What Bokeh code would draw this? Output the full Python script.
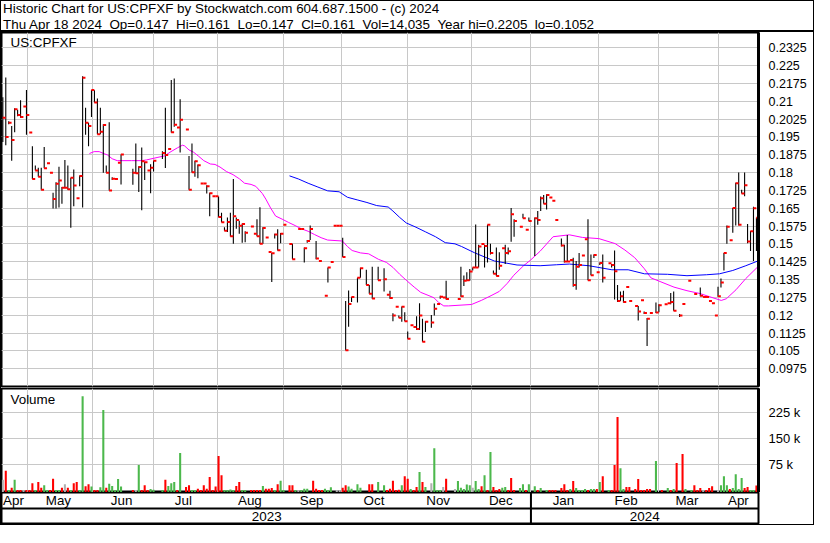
from bokeh.plotting import figure
from bokeh.models import Range1d, FixedTicker, Label, Span, ColumnDataSource, Div
from bokeh.layouts import column
from bokeh.embed import file_html
from bokeh.resources import INLINE
from bokeh.transform import dodge
from bokeh.core.properties import value

FONT = "Liberation Sans"

header_line1 = "Historic Chart for US:CPFXF by Stockwatch.com 604.687.1500 - (c) 2024"
header_line2 = "Thu Apr 18 2024  Op=0.147  Hi=0.161  Lo=0.147  Cl=0.161  Vol=14,035  Year hi=0.2205  lo=0.1052"
symbol = "US:CPFXF"

# ---- daily bars (trading-day index) ----
price_idx = [0,1,2,3,4,5,6,7,8,9,10,11,12,13,14,15,16,17,18,19,20,21,22,23,24,25,26,27,28,29,
             30,31,32,33,34,35,36,37,38,39,40,44,45,46,47,48,49,50,51,54,55,56,57,58,59,60,62,63,64,65,
             66,67,68,69,70,71,72,73,74,75,76,77,78,79,80,81,82,84,85,86,87,88,89,90,91,92,93,94,95,97,
             98,100,101,102,103,104,106,107,109,110,111,112,113,114,115,116,117,118,120,121,123,124,125,127,129,130,131,132,133,134,
             135,136,137,138,139,140,141,142,143,145,146,147,148,149,150,154,155,156,157,158,159,160,161,162,163,164,165,166,167,168,
             169,170,171,172,173,175,176,177,178,180,181,182,183,184,185,186,187,189,190,191,192,193,194,195,196,197,198,199,200,201,
             202,203,205,206,207,208,209,210,211,212,214,215,216,217,218,219,221,222,224,225,226,227,229,230,232,234,236,237,238,239,
             240,241,242,243,244,245,246,247,248,249,250,251,252,253,254,255]
price_hi = [.2117,.2200,.2016,.1996,.2070,.2064,.2104,.2078,.2147,.1968,.1911,.1830,.1820,.1820,.1907,.1839,.1799,.1715,.1759,.1824,
            .1739,.1853,.1830,.1778,.1813,.1692,.1787,.2205,.2073,.2009,.2147,.2146,.2111,.2073,.2003,.1830,.2012,.1780,.1773,.1841,
            .1876,.1816,.1922,.1826,.1905,.1845,.1809,.1835,.1850,.1890,.2073,.1899,.2189,.2195,.1989,.2108,.1981,.1870,.1922,.1850,
            .1834,.1754,.1754,.1746,.1715,.1700,.1700,.1699,.1631,.1570,.1611,.1631,.1773,.1611,.1597,.1586,.1553,.1573,.1543,.1604,
            .1654,.1570,.1527,.1466,.1462,.1543,.1561,.1546,.1580,.1499,.1500,.1563,.1563,.1485,.1516,.1577,.1512,.1428,.1282,.1401,
            .1424,.1576,.1576,.1576,.1526,.1260,.1304,.1276,.1357,.1399,.1391,.1327,.1404,.1404,.1397,.1286,.1303,.1208,.1235,.1199,
            .1236,.1212,.1131,.1158,.1150,.1196,.1250,.1185,.1174,.1201,.1249,.1247,.1282,.1274,.1345,.1268,.1404,.1367,.1381,.1394,
            .1401,.1581,.1496,.1499,.1496,.1580,.1500,.1388,.1485,.1465,.1482,.1496,.1485,.1651,.1604,.1572,.1627,.1559,.1611,.1611,
            .1638,.1699,.1705,.1709,.1695,.1681,.1600,.1523,.1496,.1537,.1432,.1442,.1428,.1462,.1451,.1519,.1604,.1455,.1455,.1381,
            .1422,.1455,.1418,.1415,.1472,.1327,.1300,.1303,.1319,.1260,.1239,.1239,.1263,.1215,.1188,.1209,.1253,.1246,.1246,.1250,
            .1293,.1300,.1205,.1247,.1345,.1289,.1316,.1276,.1276,.1260,.1250,.1199,.1320,.1354,.1462,.1577,.1515,.1651,.1757,.1800,
            .1728,.1800,.1584,.1554,.1656,.1610]
price_lo = [.1928,.1915,.2003,.1850,.1969,.2037,.2030,.2078,.1959,.1968,.1773,.1809,.1782,.1728,.1818,.1839,.1799,.1649,.1649,.1653,
            .1669,.1734,.1728,.1568,.1658,.1692,.1742,.1653,.1959,.1911,.2034,.2095,.1961,.1961,.1799,.1799,.1724,.1769,.1773,.1841,
            .1750,.1749,.1796,.1718,.1641,.1769,.1809,.1713,.1804,.1857,.1819,.1899,.1968,.1993,.1989,.1884,.1981,.1728,.1800,.1782,
            .1776,.1754,.1754,.1712,.1616,.1700,.1700,.1612,.1591,.1555,.1550,.1531,.1500,.1564,.1543,.1505,.1507,.1573,.1543,.1532,
            .1499,.1500,.1527,.1466,.1340,.1523,.1472,.1503,.1580,.1499,.1435,.1563,.1563,.1422,.1505,.1516,.1435,.1428,.1282,.1337,
            .1424,.1576,.1576,.1576,.1445,.1053,.1151,.1255,.1253,.1357,.1327,.1290,.1269,.1347,.1300,.1286,.1269,.1174,.1235,.1189,
            .1172,.1174,.1101,.1158,.1150,.1138,.1138,.1088,.1129,.1147,.1199,.1247,.1269,.1274,.1266,.1268,.1277,.1323,.1345,.1345,
            .1388,.1401,.1401,.1499,.1401,.1422,.1455,.1374,.1365,.1391,.1482,.1415,.1455,.1509,.1530,.1572,.1608,.1559,.1595,.1449,
            .1580,.1638,.1669,.1645,.1695,.1681,.1600,.1489,.1422,.1426,.1432,.1320,.1307,.1401,.1451,.1519,.1347,.1368,.1440,.1381,
            .1411,.1337,.1418,.1401,.1266,.1255,.1260,.1253,.1319,.1260,.1239,.1178,.1263,.1205,.1070,.1209,.1209,.1212,.1246,.1250,
            .1246,.1219,.1192,.1247,.1345,.1289,.1280,.1276,.1276,.1260,.1250,.1199,.1277,.1316,.1388,.1500,.1515,.1547,.1577,.1577,
            .1712,.1700,.1503,.1470,.1428,.1470]
price_cl = [.2030,.1949,.2009,.1937,.2066,.2042,.2034,.2078,.2042,.1968,.1773,.1809,.1782,.1728,.1818,.1839,.1799,.1689,.1753,.1766,
            .1736,.1736,.1730,.1778,.1745,.1692,.1785,.2199,.2009,.1996,.2147,.2095,.1961,.1972,.2000,.1799,.1724,.1774,.1773,.1841,
            .1876,.1799,.1797,.1823,.1847,.1843,.1809,.1820,.1850,.1882,.1874,.1899,.1969,.2001,.1989,.2022,.1981,.1728,.1801,.1847,
            .1831,.1754,.1754,.1742,.1713,.1700,.1700,.1613,.1591,.1555,.1592,.1532,.1616,.1600,.1576,.1584,.1547,.1573,.1543,.1532,
            .1500,.1567,.1527,.1466,.1461,.1539,.1473,.1543,.1580,.1499,.1435,.1563,.1563,.1482,.1512,.1563,.1438,.1428,.1282,.1401,
            .1424,.1576,.1576,.1576,.1445,.1053,.1247,.1276,.1357,.1397,.1327,.1290,.1270,.1347,.1351,.1286,.1272,.1199,.1235,.1189,
            .1235,.1174,.1101,.1158,.1150,.1142,.1199,.1088,.1172,.1169,.1227,.1247,.1277,.1274,.1268,.1268,.1280,.1345,.1347,.1384,
            .1401,.1401,.1489,.1499,.1491,.1580,.1462,.1374,.1365,.1408,.1482,.1462,.1469,.1624,.1596,.1572,.1608,.1559,.1596,.1608,
            .1600,.1692,.1669,.1705,.1695,.1681,.1600,.1493,.1426,.1426,.1432,.1327,.1404,.1411,.1451,.1519,.1347,.1368,.1453,.1381,
            .1419,.1357,.1418,.1411,.1385,.1260,.1280,.1255,.1319,.1260,.1239,.1215,.1263,.1209,.1185,.1209,.1211,.1242,.1246,.1250,
            .1255,.1219,.1199,.1247,.1345,.1289,.1282,.1276,.1276,.1260,.1250,.1199,.1280,.1337,.1462,.1572,.1515,.1651,.1755,.1580,
            .1712,.1746,.1510,.1553,.1650,.1610]

# ---- moving averages ----
ma_fast_x = [29.3,30.9,32.6,33.9,35.4,37.0,38.7,43.6,47.0,48.6,52.5,54.7,56.9,59.1,60.8,61.5,63.0,64.6,66.3,68.0,
             70.2,71.8,73.5,75.7,77.9,80.1,81.8,84.0,85.6,87.8,89.0,90.6,92.3,94.5,96.7,98.9,101.1,103.3,105.5,107.7,
             109.9,114.9,116.6,118.2,121.0,123.8,127.1,129.8,132.0,134.3,136.5,139.2,141.4,144.2,145.9,147.5,149.2,150.8,158.6,161.9,
             165.2,168.0,170.7,172.9,176.2,178.5,181.8,186.2,191.7,196.1,201.7,207.2,210.5,213.8,217.1,219.3,222.7,227.1,231.5,235.9,
             240.3,243.1,244.8,248.1,251.4,255.5]
ma_fast_y = [0.1880,0.1888,0.1888,0.1881,0.1874,0.1858,0.1850,0.1850,0.1850,0.1853,0.1864,0.1870,0.1888,0.1904,0.1915,0.1912,0.1895,0.1885,0.1868,0.1850,
             0.1836,0.1834,0.1823,0.1804,0.1791,0.1773,0.1755,0.1750,0.1742,0.1712,0.1688,0.1651,0.1617,0.1604,0.1590,0.1577,0.1563,0.1553,0.1539,0.1526,
             0.1516,0.1512,0.1489,0.1472,0.1462,0.1458,0.1435,0.1422,0.1401,0.1372,0.1347,0.1318,0.1296,0.1282,0.1273,0.1253,0.1239,0.1239,0.1245,0.1262,
             0.1282,0.1300,0.1334,0.1368,0.1408,0.1431,0.1469,0.1530,0.1538,0.1527,0.1522,0.1501,0.1474,0.1442,0.1395,0.1357,0.1340,0.1318,0.1303,0.1291,
             0.1273,0.1262,0.1269,0.1307,0.1354,0.1404]
ma_slow_x = [97.0,100.0,103.3,106.6,109.9,113.8,116.6,119.9,123.2,126.5,130.4,132.0,134.3,136.5,139.8,143.1,146.4,149.7,153.0,155.2,
             159.7,166.3,174.0,181.8,187.3,191.7,198.3,206.1,211.6,217.1,224.9,231.5,238.1,242.5,247.0,251.4,255.5]
ma_slow_y = [0.1786,0.1773,0.1755,0.1739,0.1723,0.1719,0.1696,0.1685,0.1674,0.1661,0.1655,0.1638,0.1611,0.1588,0.1570,0.1550,0.1530,0.1505,0.1500,0.1489,
             0.1462,0.1428,0.1411,0.1408,0.1412,0.1415,0.1408,0.1391,0.1391,0.1374,0.1372,0.1366,0.1370,0.1374,0.1388,0.1408,0.1428]

# ---- volume (thousands), one entry per trading-day slot; None = no trade ----
N = None
vol_k = [31,57,1,8,31,1,1,1,1,1, 21,1,24,8,15,1,1,34,1,1, 8,18,8,1,21,24,1,272,12,18, 11,1,1,9,232,8,19,13,1,33,
         11,N,N,N,1,1,73,1,15,1, 4,2,N,N,1,31,13,21,24,1, 108,N,10,15,1,1,5,1,15,5, 39,1,11,99,44,1,1,3,1,13,
         24,1,1,N,1,1,1,1,13,5, 5,7,1,18,28,1,N,15,15,1, 1,1,5,5,N,28,5,1,1,5, 1,9,N,1,1,8,15,11,5,N,
         18,8,N,N,18,18,N,24,N,15, 1,5,28,1,2,15,41,34,4,1, 10,53,24,10,N,21,122,1,1,10, 34,N,N,4,27,8,4,17,15,8,
         27,4,12,44,1,111,10,1,4,8, 10,1,36,1,N,7,18,1,18,N, 12,1,7,N,1,1,1,1,N,7, 18,1,4,27,7,1,1,4,1,4,
         4,4,24,41,N,1,1,73,212,64, 4,10,10,N,4,33,1,1,4,4, N,85,N,1,N,7,1,4,79,N, 105,4,N,1,15,1,7,1,1,7,
         12,N,1,15,41,15,4,7,47,4, 36,7,10,1,1,14]
vol_dir = ("nrgrgrrnrr" "rgrrggrrgg" "rnrgrrggrr" "grrggrgggg" "g---rngrrr" "gg--grgggr" "g-rrggrrrr" "rrrrrggggr"
           "rgg-rrrrgr" "rrgrgg-rrg" "nggg-rrrrg" "gg-nnrrgg-" "gg--rr-g-g" "rrrrrgrrgr" "rgrg-ngggn" "r--ngggggn"
           "ggrgrgrrrg" "grrr-ggrg-" "grg-grrr-r" "rrgrggggrg" "grgr-grrrg" "grr-rrrrrr" "-g-r-grgr-" "rg-grrrnrr"
           "r-ngggrggg" "grrggr")

# ---- axes / calendar ----
month_starts = [8.2, 30.4, 50.9, 72.5, 94.9, 114.6, 136.8, 158.5, 178.7, 201.7, 221.7, 242.2]
month_names = ["Apr", "May", "Jun", "Jul", "Aug", "Sep", "Oct", "Nov", "Dec", "Jan", "Feb", "Mar", "Apr"]
month_centers = [3.6, 18.8, 40.2, 61.1, 83.6, 104.5, 125.6, 147.3, 168.5, 189.7, 210.9, 231.5, 248.9]
year_names = ["2023", "2024"]
year_centers = [89.3, 217.2]
year_split = 178.7

price_tick_labels = ["0.0975", "0.105", "0.1125", "0.12", "0.1275", "0.135", "0.1425", "0.15", "0.1575", "0.165",
                     "0.1725", "0.18", "0.1875", "0.195", "0.2025", "0.21", "0.2175", "0.225", "0.2325"]
price_ticks = [float(s) for s in price_tick_labels]
vol_ticks = [75000, 150000, 225000]
vol_tick_labels = ["75 k", "150 k", "225 k"]

GRID = "#c8c8c8"
W, LB, RB = 812, 0, 55
FW = W - LB - RB
xr = Range1d(-0.45, 255.7)

def style_axis(ax, size):
    ax.major_tick_line_color = None
    ax.minor_tick_line_color = None
    ax.axis_line_color = "black"
    ax.axis_line_width = 3
    ax.major_label_text_font = FONT
    ax.major_label_text_font_size = size
    ax.major_label_text_color = "black"
    ax.major_label_standoff = 4

# ---------------- header ----------------
header_html = header_line1 + "\n" + header_line2.replace("  ", " &nbsp;")
header = Div(text=header_html, width=W, height=31, margin=(0, 0, 0, 0),
             styles={"font-family": FONT, "font-size": "13.4px", "line-height": "15.5px",
                     "white-space": "pre", "color": "black", "padding-left": "2px",
                     "box-sizing": "border-box", "border-bottom": "2px solid black",
                     "background-color": "white"})

# ---------------- price panel ----------------
p = figure(width=W, frame_width=FW, frame_height=354, x_range=xr, y_range=Range1d(0.09, 0.2389),
           y_axis_location="right", x_axis_location=None, title=None, toolbar_location=None,
           output_backend="svg", min_border_left=LB, min_border_right=RB, min_border_top=0,
           min_border_bottom=1, background_fill_color="white", border_fill_color="white")
p.outline_line_color = "black"
p.outline_line_width = 2
p.yaxis.ticker = FixedTicker(ticks=price_ticks)
p.yaxis.major_label_overrides = dict(zip(price_ticks, price_tick_labels))
style_axis(p.yaxis[0], "12.5px")
p.xgrid.ticker = FixedTicker(ticks=month_starts)
p.ygrid.ticker = FixedTicker(ticks=price_ticks)
for g in (p.xgrid[0], p.ygrid[0]):
    g.grid_line_color = GRID
    g.grid_line_width = 1

src = ColumnDataSource(dict(i=price_idx, hi=price_hi, lo=price_lo, cl=price_cl))
p.line(ma_fast_x, ma_fast_y, line_color="#ff00ff", line_width=1)
p.line(ma_slow_x, ma_slow_y, line_color="#0000ff", line_width=1)
p.segment(x0="i", y0="lo", x1="i", y1="hi", source=src, line_color="black", line_width=1.1)
p.rect(x=dodge("i", 0.45, range=xr), y="cl", width=3, height=2, width_units="screen",
       height_units="screen", source=src, fill_color="#ff0000", line_color=None)
p.add_layout(Label(x=xr.start, y=p.y_range.end, x_offset=9, y_offset=-2, text=symbol,
                   text_baseline="top", text_font=FONT, text_font_size="13.4px", text_color="black"))

# ---------------- volume panel ----------------
v = figure(width=W, frame_width=FW, frame_height=104, x_range=xr, y_range=Range1d(-6000, 294000),
           y_axis_location="right", x_axis_location=None, title=None, toolbar_location=None,
           output_backend="svg", min_border_left=LB, min_border_right=RB, min_border_top=1,
           min_border_bottom=0, background_fill_color="white", border_fill_color="white")
v.outline_line_color = "black"
v.outline_line_width = 2
v.yaxis.ticker = FixedTicker(ticks=vol_ticks)
v.yaxis.major_label_overrides = dict(zip(vol_ticks, vol_tick_labels))
style_axis(v.yaxis[0], "13px")
v.xgrid.ticker = FixedTicker(ticks=month_starts)
v.ygrid.ticker = FixedTicker(ticks=vol_ticks)
for g in (v.xgrid[0], v.ygrid[0]):
    g.grid_line_color = GRID
    g.grid_line_width = 1
cmap = {"g": "#4cb84c", "r": "#ff0000", "n": "#b0b0b0"}
vi, vv, vc = [], [], []
for k, (val, d) in enumerate(zip(vol_k, vol_dir)):
    if val is not None:
        vi.append(k); vv.append(val * 1000); vc.append(cmap[d])
vsrc = ColumnDataSource(dict(i=vi, v=vv, c=vc))
v.vbar(x="i", top="v", bottom=v.y_range.start, width=0.7, source=vsrc, fill_color="c", line_color=None)
v.add_layout(Label(x=xr.start, y=v.y_range.end, x_offset=9, y_offset=-3, text="Volume",
                   text_baseline="top", text_font=FONT, text_font_size="13.4px", text_color="black"))

# ---------------- month / year strip ----------------
m = figure(width=W, frame_width=FW, frame_height=32, x_range=xr, y_range=Range1d(0, 2),
           x_axis_location=None, y_axis_location=None, title=None, toolbar_location=None,
           output_backend="svg", min_border_left=LB, min_border_right=RB, min_border_top=0,
           min_border_bottom=0, background_fill_color="white", border_fill_color="white")
m.xgrid.visible = False
m.ygrid.visible = False
m.outline_line_color = "black"
m.outline_line_width = 2
m.add_layout(Span(location=1, dimension="width", line_color="black", line_width=2))
m.add_layout(Span(location=year_split, dimension="height", line_color="black", line_width=2))
m.text(x=month_centers, y=[1.5] * len(month_centers), text=month_names, text_align="center",
       text_baseline="middle", text_font=value(FONT), text_font_size="13.4px", text_color="black")
m.text(x=year_centers, y=[0.5] * len(year_centers), text=year_names, text_align="center",
       text_baseline="middle", text_font=value(FONT), text_font_size="13.4px", text_color="black")

layout = column(header, p, v, m, spacing=0, styles={"border": "1px solid black", "background-color": "white"})
open("out.html", "w").write(file_html(layout, INLINE, title="Historic Chart US:CPFXF"))
